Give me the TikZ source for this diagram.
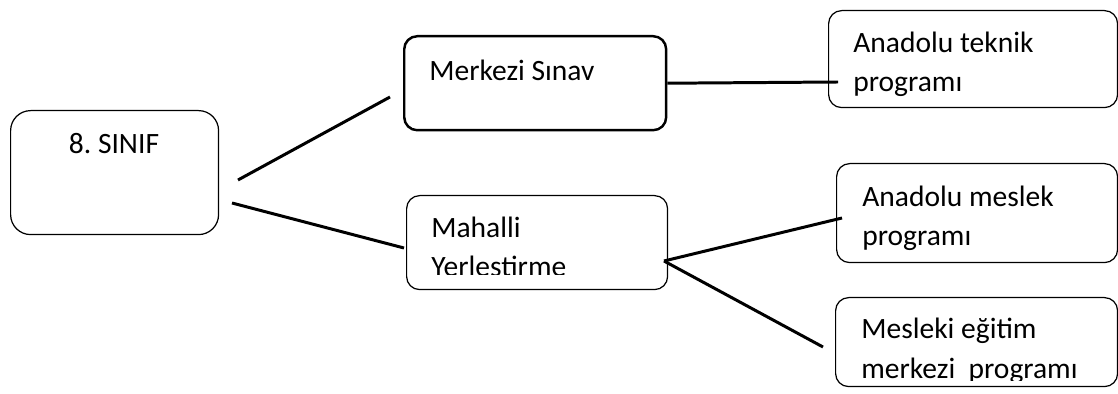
\documentclass[tikz,border=0pt]{standalone}
\usepackage{fontspec}
\setmainfont{Carlito}
\usetikzlibrary{positioning,calc}

\begin{document}
\frenchspacing
\begin{tikzpicture}[x=0.02cm, y=-0.02cm,
    box/.style={rectangle, draw, rounded corners=0.26cm, line width=0.7pt, anchor=north west, inner sep=0pt},
    box_thick/.style={box, line width=1.4pt},
    txt/.style={anchor=base west, inner sep=0pt, align=left, font=\fontsize{16.8}{22.4}\selectfont},
    line/.style={draw, line width=1.7pt}]

    \useasboundingbox (0,0) rectangle (1118,394);

    % Left side: 8. SINIF
    \node [box, rounded corners=0.4cm, minimum width=4.16cm, minimum height=2.48cm] (sinif) at (10,110) {};
    \node [txt, anchor=base] (sinif_txt) at (114,154) {8. SINIF};

    % Middle: the two ways
    \node [box_thick, minimum width=5.24cm, minimum height=1.88cm] (merkezi) at (403,35) {};
    \node [txt] (merkezi_txt) at (429,81) {Merkezi Sınav};

    \node [box, minimum width=5.22cm, minimum height=1.88cm] (mahalli) at (406,195) {};
    \begin{scope}
        \clip (406,195) rectangle (667,275);
        \node [txt] (mahalli_txt) at (431,277) {Mahalli\\Yerlestirme};
    \end{scope}

    % Right side: programs
    \node [box, minimum width=5.78cm, minimum height=1.94cm] (teknik) at (828,10) {};
    \node [txt] (teknik_txt) at (853,92) {Anadolu teknik\\programı};

    \node [box, minimum width=5.62cm, minimum height=1.98cm] (meslek) at (836,163) {};
    \node [txt] (meslek_txt) at (862,246) {Anadolu meslek\\programı};

    \node [box, minimum width=5.64cm, minimum height=1.78cm] (mesleki) at (835,297) {};
    \begin{scope}
        \clip (835,297) rectangle (1118,381);
        \node [txt] (mesleki_txt) at (861,378) {Mesleki eğitim\\merkezi~ programı};
    \end{scope}

    % Connectors
    \coordinate (sinif_up) at (238,180);
    \coordinate (sinif_down) at (232,203);
    \coordinate (merkezi_in) at (390,97);
    \coordinate (mahalli_in) at (404,248);
    \coordinate (teknik_in) at (838,82);
    \coordinate (mahalli_out) at (664,261);
    \coordinate (meslek_in) at (842,218);
    \coordinate (mesleki_in) at (823,347);

    \draw [line] (sinif_up) -- (merkezi_in);
    \draw [line] (sinif_down) -- (mahalli_in);
    \draw [line] (merkezi.east) -- (teknik_in);
    \draw [line] (mahalli_out) -- (meslek_in);
    \draw [line] (mahalli_out) -- (mesleki_in);
\end{tikzpicture}
\end{document}
